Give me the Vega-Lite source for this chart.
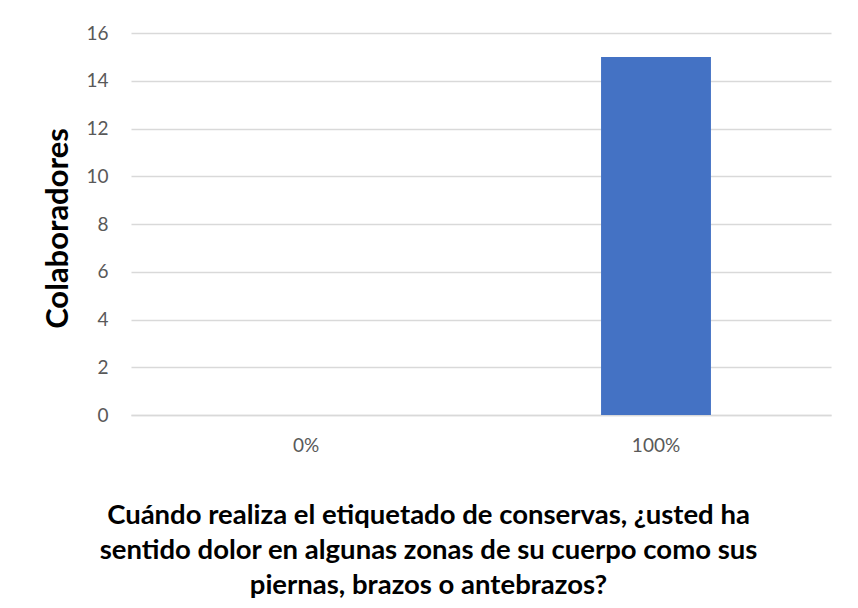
{
  "$schema": "https://vega.github.io/schema/vega-lite/v6.json",
  "width": 700,
  "height": 382,
  "autosize": {"type": "none"},
  "padding": {"left": 131, "top": 33, "right": 27, "bottom": 193},
  "background": "white",
  "config": {
    "view": {"stroke": null},
    "font": "Lato"
  },
  "data": {
    "values": [
      {"categoria": "0%", "colaboradores": 0},
      {"categoria": "100%", "colaboradores": 15}
    ]
  },
  "mark": {"type": "bar", "color": "#4472C4"},
  "encoding": {
    "x": {
      "field": "categoria",
      "type": "nominal",
      "sort": ["0%", "100%"],
      "scale": {"paddingInner": 0.686, "paddingOuter": 0.343},
      "axis": {
        "title": ["Cuándo realiza el etiquetado de conservas, ¿usted ha", "sentido dolor en algunas zonas de su cuerpo como sus", "piernas, brazos o antebrazos?"],
        "titleFont": "Lato",
        "titleFontSize": 27.5,
        "titleFontWeight": "bold",
        "titleColor": "black",
        "titleLineHeight": 35,
        "titleX": 297,
        "titleY": 86,
        "titleBaseline": "top",
        "labelAngle": 0,
        "labelFontSize": 19,
        "labelColor": "#595959",
        "labelPadding": 21,
        "ticks": false,
        "domain": true,
        "domainColor": "#d9d9d9",
        "domainWidth": 1.5
      }
    },
    "y": {
      "field": "colaboradores",
      "type": "quantitative",
      "scale": {"domain": [0, 16]},
      "axis": {
        "title": "Colaboradores",
        "titleFont": "Lato",
        "titleFontSize": 31,
        "titleFontWeight": "bold",
        "titleColor": "black",
        "titlePadding": 11,
        "titleY": 195,
        "values": [0, 2, 4, 6, 8, 10, 12, 14, 16],
        "labelFontSize": 19,
        "labelColor": "#595959",
        "labelPadding": 23,
        "ticks": false,
        "domain": false,
        "gridColor": "#d9d9d9",
        "gridWidth": 1.5
      }
    }
  }
}
